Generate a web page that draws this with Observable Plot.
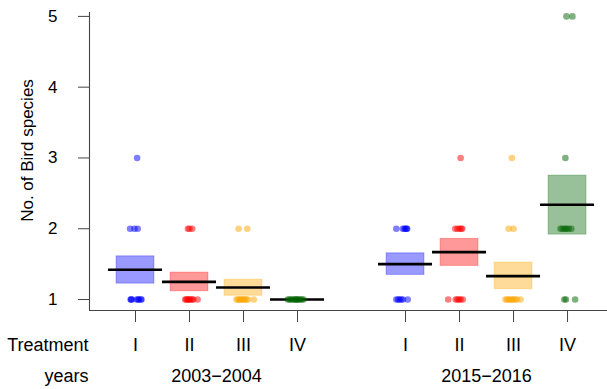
<!DOCTYPE html>
<html>
<head>
<meta charset="utf-8">
<script src="https://cdn.jsdelivr.net/npm/d3@7"></script>
<script src="https://cdn.jsdelivr.net/npm/@observablehq/plot@0.6"></script>
<style>
  html, body { margin: 0; padding: 0; background: white; }
  svg { display: block; }
</style>
</head>
<body>
<div id="chart"></div>
<script>
// ---- data ----
const treatments = ["I", "II", "III", "IV"];
const periods = ["2003\u22122004", "2015\u22122016"];
const treatmentColors = ["blue", "red", "orange", "darkgreen"];

// eight groups: period x treatment
const groupPeriod    = [0, 0, 0, 0, 1, 1, 1, 1];
const groupTreatment = [0, 1, 2, 3, 0, 1, 2, 3];
const groupPos       = [1, 2, 3, 4, 6, 7, 8, 9];
const groupMean      = [1.42, 1.25, 1.17, 1.00, 1.50, 1.67, 1.33, 2.34];
const groupLow       = [1.225, 1.117, 1.053, 1.00, 1.348, 1.475, 1.146, 1.917];
const groupHigh      = [1.61, 1.38, 1.28, 1.00, 1.653, 1.857, 1.522, 2.75];

// individual observations: group index, value, horizontal jitter
const pointGroup = [
  0,0,0,0,0,0,0,0,0,0,0,0,
  1,1,1,1,1,1,1,1,1,1,1,1,
  2,2,2,2,2,2,2,2,2,2,2,2,
  3,3,3,3,3,3,3,3,3,3,3,3,
  4,4,4,4,4,4,4,4,4,4,4,4,
  5,5,5,5,5,5,5,5,5,5,5,5,
  6,6,6,6,6,6,6,6,6,6,6,6,
  7,7,7,7,7,7,7,7,7,7,7,7
];
const pointValue = [
  3,2,2,2,1,1,1,1,1,1,1,1,
  2,2,2,1,1,1,1,1,1,1,1,1,
  2,2,1,1,1,1,1,1,1,1,1,1,
  1,1,1,1,1,1,1,1,1,1,1,1,
  2,2,2,2,2,2,1,1,1,1,1,1,
  3,2,2,2,2,2,1,1,1,1,1,1,
  3,2,2,1,1,1,1,1,1,1,1,1,
  5,5,3,2,2,2,2,2,2,1,1,1
];
const pointJitter = [
  0.03,-0.10,-0.02,0.04,-0.09,-0.08,-0.07,0.02,0.05,0.06,0.10,0.11,
  -0.03,0.00,0.05,-0.08,-0.06,-0.04,-0.02,0.00,0.02,0.05,0.07,0.15,
  -0.09,0.07,-0.13,-0.10,-0.08,-0.05,-0.03,0.00,0.02,0.05,0.08,0.19,
  -0.18,-0.15,-0.12,-0.09,-0.06,-0.04,-0.02,0.00,0.02,0.05,0.08,0.11,
  -0.17,-0.05,-0.02,0.00,0.02,0.03,-0.17,-0.14,-0.11,-0.08,-0.05,0.04,
  0.02,-0.08,-0.04,0.00,0.03,0.05,-0.21,-0.07,-0.04,-0.01,0.02,0.06,
  -0.03,-0.09,0.00,-0.15,-0.12,-0.09,-0.06,-0.03,0.00,0.03,0.06,0.13,
  -0.02,0.09,-0.04,-0.13,-0.09,-0.05,-0.02,0.02,0.07,-0.06,-0.03,0.14
];

const yTicks = [1, 2, 3, 4, 5];
const xDomain = [0.148, 9.74];
const yDomain = [0.845, 5.055];
const yTitle = "No. of Bird species";
const rowLabels = ["Treatment", "years"];

// ---- tables for the marks ----
const groups = groupPos.map((p, i) => ({
  pos: p,
  mean: groupMean[i],
  low: groupLow[i],
  high: groupHigh[i],
  color: treatmentColors[groupTreatment[i]]
}));
const points = pointGroup.map((g, i) => ({
  x: groupPos[g] + pointJitter[i],
  y: pointValue[i],
  color: treatmentColors[groupTreatment[g]]
}));
const periodLabels = periods.map((name, k) => ({
  name,
  x: d3.mean(groupPos.filter((_, i) => groupPeriod[i] === k))
}));
const BOX_HALF = 0.35, LINE_HALF = 0.5;
const FONT = "'Liberation Sans', Arial, Helvetica, sans-serif";

const chart = Plot.plot({
  width: 607,
  height: 389,
  marginLeft: 89,
  marginRight: 0,
  marginTop: 12,
  marginBottom: 79,
  style: { fontFamily: FONT, fontSize: "17px", background: "white", color: "black" },
  x: { type: "linear", domain: xDomain, axis: null },
  y: { type: "linear", domain: yDomain, axis: null },
  marks: [
    // boxes (mean ± SE)
    Plot.rect(groups, {
      x1: d => d.pos - BOX_HALF, x2: d => d.pos + BOX_HALF,
      y1: "low", y2: "high",
      fill: "color", fillOpacity: 0.4,
      stroke: "color", strokeOpacity: 0.3, strokeWidth: 1
    }),
    // mean lines
    Plot.ruleY(groups, {
      y: "mean",
      x1: d => d.pos - LINE_HALF, x2: d => d.pos + LINE_HALF,
      stroke: "black", strokeWidth: 2.6
    }),
    // observations
    Plot.dot(points, {
      x: "x", y: "y", r: 3.3,
      fill: "color", fillOpacity: 0.5, stroke: "none"
    }),
    // axis lines
    Plot.ruleX([xDomain[0]], { stroke: "#444", strokeWidth: 1.1 }),
    Plot.ruleY([yDomain[0]], { stroke: "#444", strokeWidth: 1.1 }),
    // y axis
    Plot.axisY({
      ticks: yTicks, tickSize: 11, tickPadding: 21, label: null,
      tickFormat: d3.format("d"),
      stroke: "#444", fill: "black", fontSize: 17
    }),
    // x axis: treatment labels
    Plot.axisX({
      ticks: groupPos, tickSize: 12, tickPadding: 16, label: null,
      tickFormat: d => treatments[groupTreatment[groupPos.indexOf(d)]],
      stroke: "#444", fill: "black", fontSize: 18
    }),
    // period labels
    Plot.text(periodLabels, {
      x: "x", text: "name", frameAnchor: "bottom",
      lineAnchor: "top", dy: 59, fontSize: 18, fill: "black"
    }),
    // row labels
    Plot.text([rowLabels[0]], {
      text: d => d, frameAnchor: "bottom-left", textAnchor: "end",
      lineAnchor: "top", dx: -1, dy: 28, fontSize: 18, fill: "black"
    }),
    Plot.text([rowLabels[1]], {
      text: d => d, frameAnchor: "bottom-left", textAnchor: "end",
      lineAnchor: "top", dx: -1, dy: 59, fontSize: 18, fill: "black"
    }),
    // y title
    Plot.text([yTitle], {
      text: d => d, frameAnchor: "left", rotate: -90, textAnchor: "middle",
      lineAnchor: "middle",
      dx: -62, dy: -11, fontSize: 17, fill: "black"
    })
  ]
});
document.getElementById("chart").appendChild(chart);
</script>
</body>
</html>
